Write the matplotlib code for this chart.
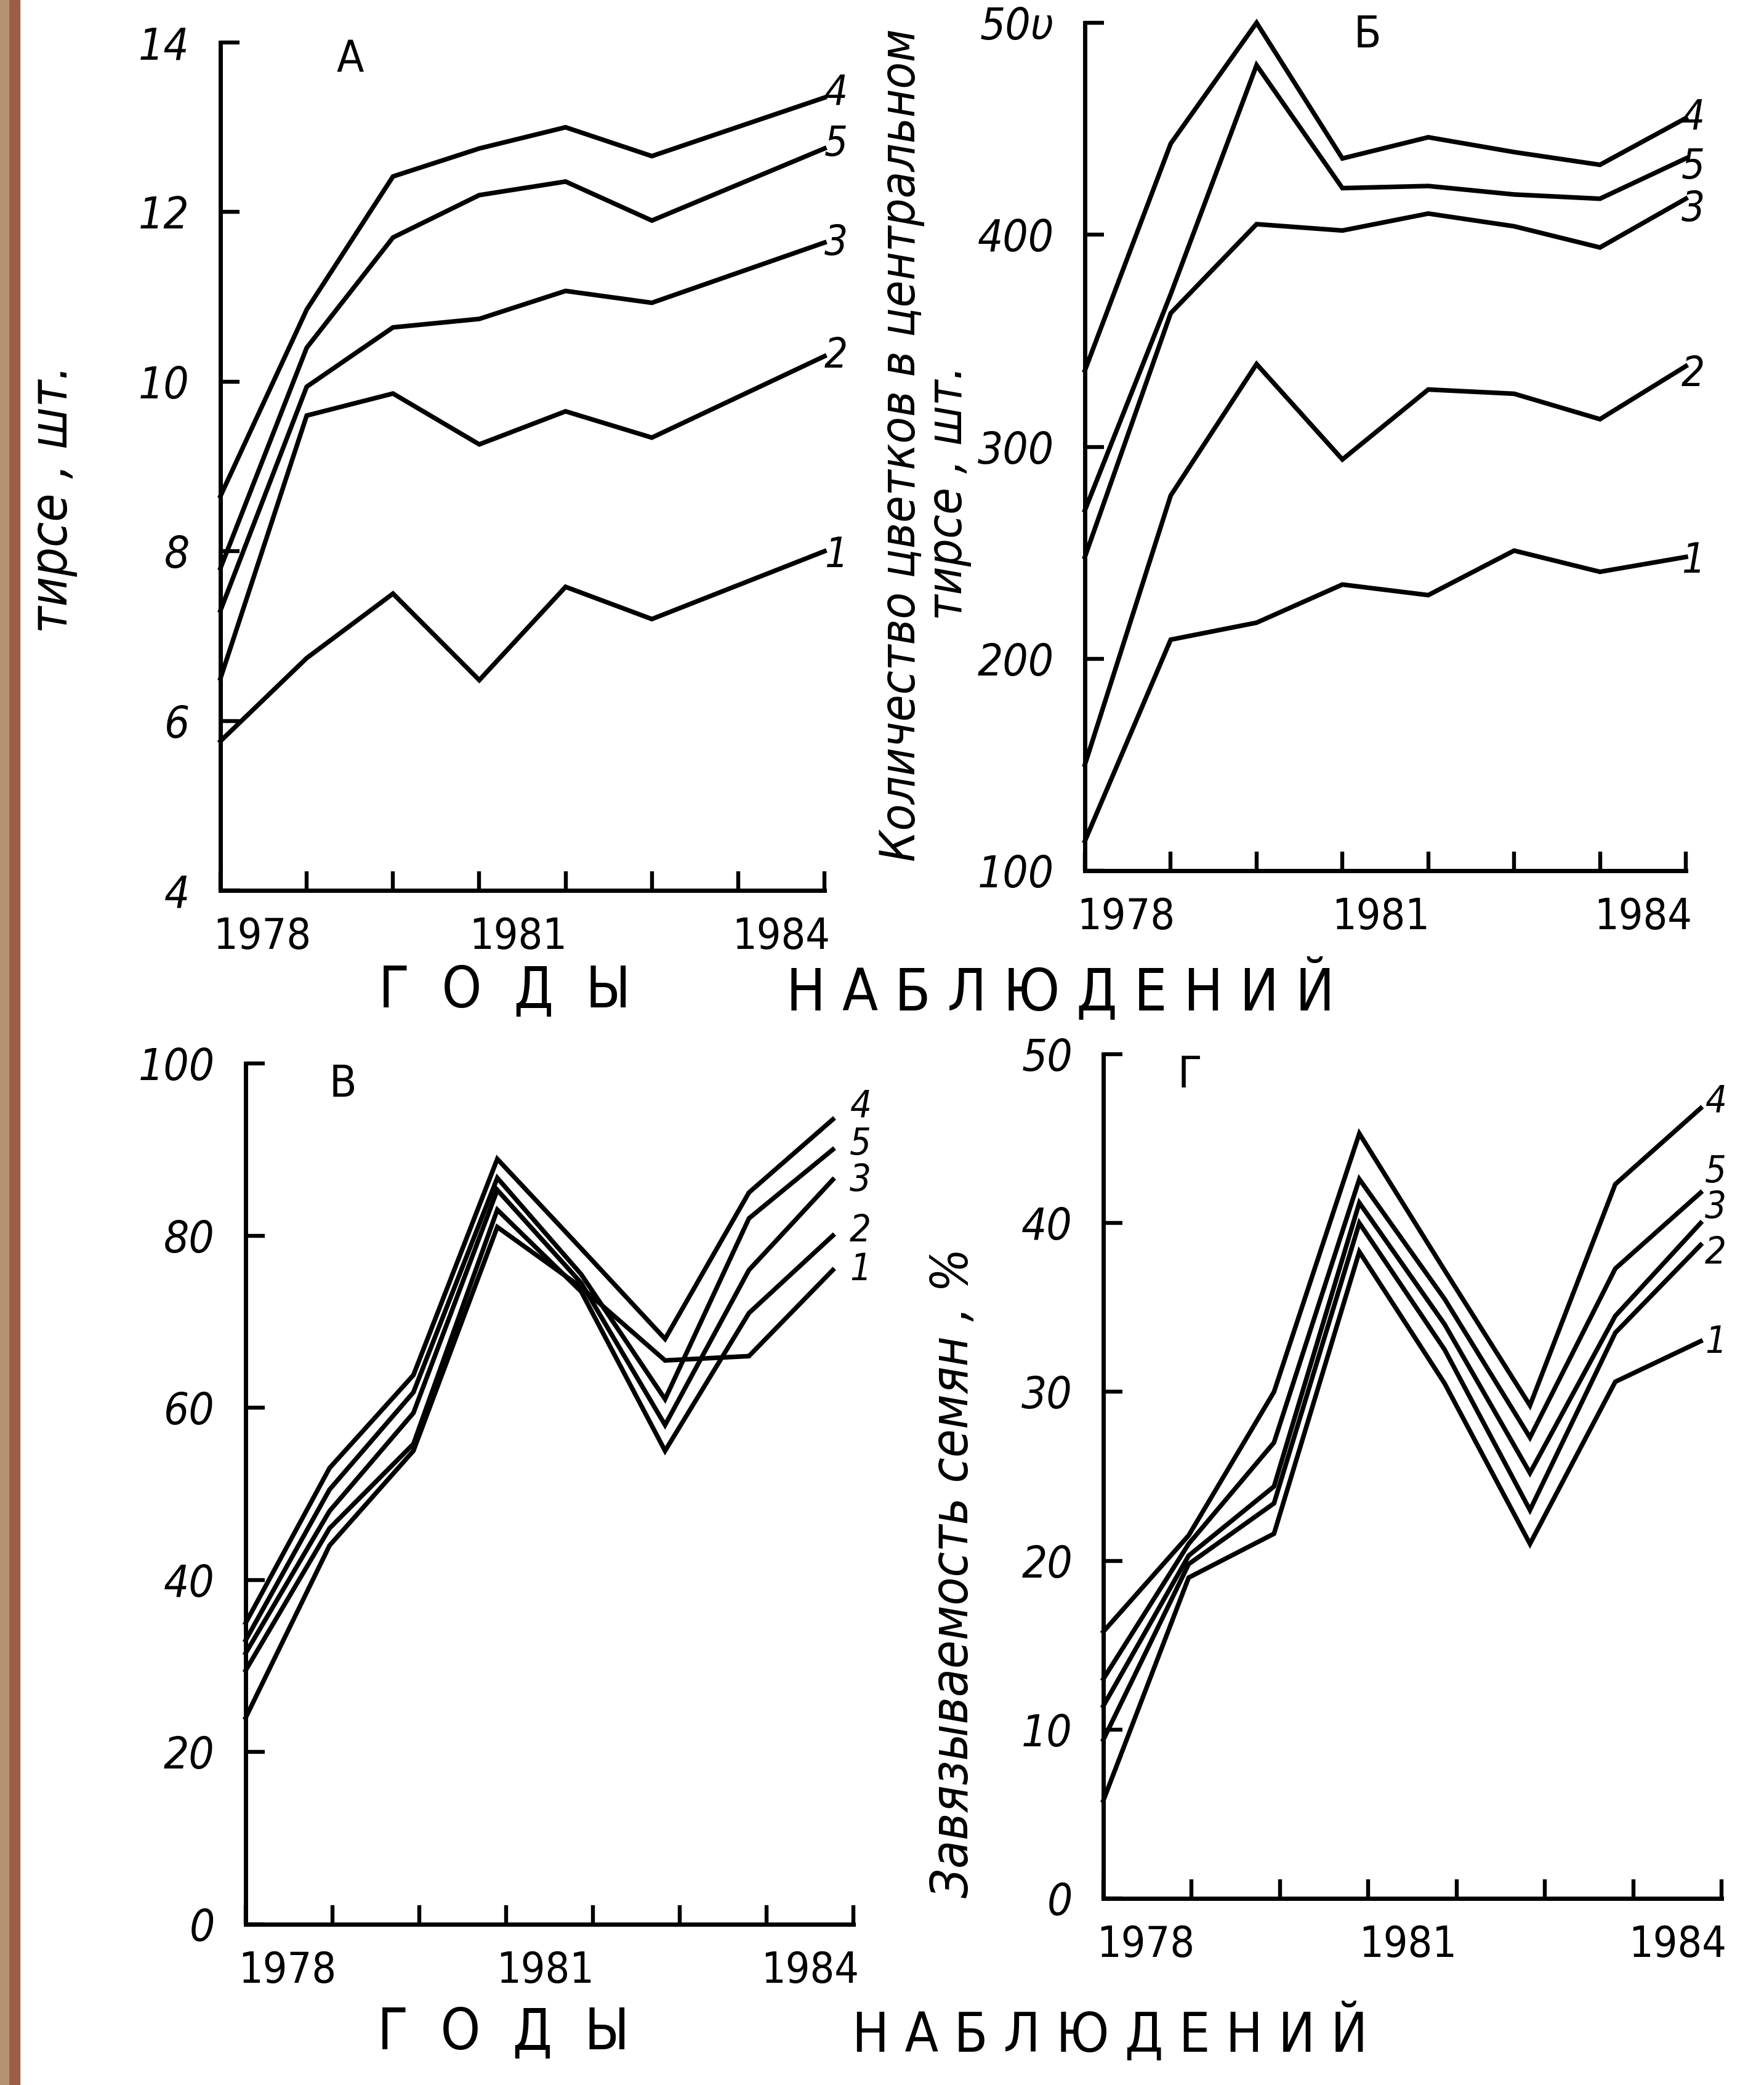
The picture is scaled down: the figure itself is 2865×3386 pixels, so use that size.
import matplotlib
matplotlib.use("Agg")
import matplotlib.pyplot as plt
from matplotlib.patches import Rectangle

FONT = ["DejaVu Sans", "Liberation Sans"]
plt.rcParams["font.family"] = FONT
plt.rcParams["font.stretch"] = "condensed"

W, H = 2865, 3386
years = ["1978", "1981", "1984"]
series_names = ["4", "5", "3", "2", "1"]

# panel A: no point at the 7th position
x_a = [0, 1, 2, 3, 4, 5, 7]
vals_a = {
    "4": [8.65, 10.85, 12.42, 12.75, 13.0, 12.66, 13.35],
    "5": [7.8, 10.4, 11.7, 12.2, 12.36, 11.9, 12.75],
    "3": [7.3, 9.94, 10.64, 10.74, 11.07, 10.93, 11.64],
    "2": [6.5, 9.6, 9.86, 9.26, 9.65, 9.34, 10.3],
    "1": [5.76, 6.74, 7.5, 6.48, 7.58, 7.2, 8.0],
}
x_full = [0, 1, 2, 3, 4, 5, 6, 7]
vals_b = {
    "4": [336, 443, 500, 436, 446, 439, 433, 455],
    "5": [270, 372, 480, 422, 423, 419, 417, 436],
    "3": [248, 363, 405, 402, 410, 404, 394, 417],
    "2": [150, 277, 339, 294, 327, 325, 313, 338],
    "1": [114, 209, 217, 235, 230, 251, 241, 248],
}
vals_c = {
    "4": [35, 53, 63.8, 88.9, 78.5, 68, 85, 93.5],
    "5": [33, 50.5, 61.8, 86.7, 75.5, 61, 82, 90],
    "3": [31.5, 48, 59.4, 85.3, 74.5, 58, 76, 86.5],
    "2": [29.5, 46, 55.8, 83, 73.5, 55, 71, 80],
    "1": [24, 44, 55, 81, 74, 65.5, 66, 76],
}
vals_d = {
    "4": [15.8, 21.5, 30, 45.3, 37.2, 29.2, 42.3, 46.8],
    "5": [13, 21, 27, 42.6, 35.5, 27.3, 37.3, 41.8],
    "3": [11.4, 20.3, 24.4, 41.2, 34, 25.2, 34.5, 40],
    "2": [9.4, 19.8, 23.4, 40, 32.5, 23, 33.5, 38.7],
    "1": [5.8, 19, 21.6, 38.3, 30.5, 21, 30.6, 33],
}
# where the series numbers sit at the right end
lab_a = {"4": 13.4, "5": 12.8, "3": 11.63, "2": 10.3, "1": 7.95}
lab_b = {"4": 455, "5": 432, "3": 412, "2": 334, "1": 246}
lab_c = {"4": 95, "5": 90.6, "3": 86.4, "2": 80.5, "1": 76}
lab_d = {"4": 47.2, "5": 43.0, "3": 40.9, "2": 38.2, "1": 32.9}

ticks_a = [4, 6, 8, 10, 12, 14]
ticks_b = [100, 200, 300, 400, 500]
ticks_c = [0, 20, 40, 60, 80, 100]
ticks_d = [0, 10, 20, 30, 40, 50]


def make_axes(left, right, top, bottom):
    return fig.add_axes([left / W, 1 - bottom / H, (right - left) / W, (bottom - top) / H])


def panel(ax, xs, vals, labs, yticks, letter, lx, ly, stretch=1.0, lab_x=7.02, lab_size=48):
    for name in series_names:
        x = xs if len(xs) == len(vals[name]) else x_full
        ax.plot(x, vals[name], color="black", lw=5.4, clip_on=False,
                solid_joinstyle="miter")
        ax.text(lab_x, labs[name], name, fontsize=lab_size, style="italic",
                ha="left", va="center")
    ax.set_xlim(0, 7 * stretch)
    ax.set_ylim(yticks[0], yticks[-1])
    ax.set_yticks(yticks)
    ax.set_yticklabels([str(t) for t in yticks])
    ax.set_xticks([i * stretch for i in range(8)])
    ax.set_xticklabels([])
    ax.set_xticks([0.48 * stretch, 3.45 * stretch, 6.5 * stretch], minor=True)
    ax.set_xticklabels(years, minor=True)
    ax.tick_params(axis="x", which="minor", length=0, labelsize=50, pad=30)
    ax.tick_params(axis="both", which="major", direction="in", length=22,
                   width=4.6, labelsize=52)
    ax.tick_params(axis="y", pad=36)
    for lbl in ax.get_yticklabels():
        lbl.set_style("italic")
    for s in ["top", "right"]:
        ax.spines[s].set_visible(False)
    for s in ["left", "bottom"]:
        ax.spines[s].set_linewidth(5.0)
    ax.text(lx, ly, letter, fontsize=52, transform=ax.transAxes,
            ha="center", va="center")


fig = plt.figure(figsize=(W / 100, H / 100), dpi=100)

ax_a = make_axes(358, 1339, 69, 1446)
panel(ax_a, x_a, vals_a, lab_a, ticks_a, "А", 0.215, 0.98, lab_x=7.0)

ax_b = make_axes(1762, 2738, 37, 1414)
panel(ax_b, x_full, vals_b, lab_b, ticks_b, "Б", 0.47, 0.985, lab_x=6.95)
ax_b.set_yticklabels(["100", "200", "300", "400", "50υ"])
for lbl in ax_b.get_yticklabels():
    lbl.set_style("italic")

ax_c = make_axes(399, 1386, 1727, 3125)
panel(ax_c, x_full, vals_c, lab_c, ticks_c, "В", 0.16, 0.975, stretch=1.035,
      lab_x=7.2, lab_size=44)

ax_d = make_axes(1792, 2796, 1712, 3083)
panel(ax_d, x_full, vals_d, lab_d, ticks_d, "Г", 0.14, 0.975, stretch=1.035,
      lab_x=7.05, lab_size=44)

# axis titles
fig.text(86 / W, 1 - 810 / H, "тирсе , шт.", rotation=90, fontsize=60,
         style="italic", ha="center", va="center")
fig.text(1464 / W, 1 - 723 / H, "Количество цветков в центральном",
         rotation=90, fontsize=57, style="italic", ha="center", va="center")
fig.text(1540 / W, 1 - 800 / H, "тирсе , шт.", rotation=90, fontsize=57,
         style="italic", ha="center", va="center")
fig.text(1548 / W, 1 - 2554 / H, "Завязываемость семян , %", rotation=90,
         fontsize=60, style="italic", ha="center", va="center")

fig.text(820 / W, 1 - 1610 / H, "Г  О  Д  Ы", fontsize=66, ha="center", va="center")
fig.text(1722 / W, 1 - 1610 / H, "Н А Б Л Ю Д Е Н И Й", fontsize=68,
         ha="center", va="center")
fig.text(818 / W, 1 - 3302 / H, "Г  О  Д  Ы", fontsize=66, ha="center", va="center")
fig.text(1803 / W, 1 - 3302 / H, "Н А Б Л Ю Д Е Н И Й", fontsize=64,
         ha="center", va="center")

# brown edge of the facing page
fig.patches.append(Rectangle((0, 0), 32 / W, 1, transform=fig.transFigure,
                             color="#9c5e48", zorder=0))
fig.patches.append(Rectangle((0, 0), 14 / W, 1, transform=fig.transFigure,
                             color="#b39372", zorder=0))

fig.savefig("out.png", dpi=100)
